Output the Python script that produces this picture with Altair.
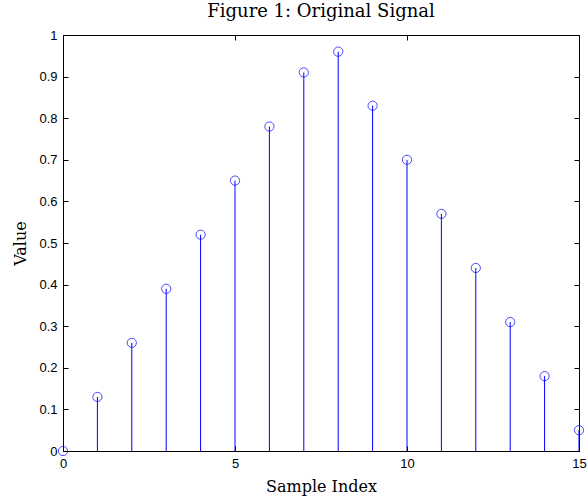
import altair as alt
import pandas as pd

sample_index = list(range(16))
values = [0.0, 0.13, 0.26, 0.39, 0.52, 0.65, 0.78, 0.91, 0.96, 0.83, 0.70, 0.57, 0.44, 0.31, 0.18, 0.05]
x_ticks = [0, 5, 10, 15]
y_ticks = [0, 0.1, 0.2, 0.3, 0.4, 0.5, 0.6, 0.7, 0.8, 0.9, 1]

df = pd.DataFrame({"n": sample_index, "v": values, "base": [0.0] * len(values)})

W, H = 516, 416
BLUE = "#0000ff"
xs = alt.Scale(domain=[0, 15], nice=False, zero=False)
ys = alt.Scale(domain=[0, 1], nice=False)

label_font = "Liberation Sans"
serif = "DejaVu Serif"

# Layer 1: stems, carries the labelled axes
stems = alt.Chart(df).mark_rule(color=BLUE, strokeWidth=1).encode(
    x=alt.X("n:Q", scale=xs, axis=alt.Axis(
        orient="bottom", values=x_ticks, format="d", title="Sample Index",
        tickSize=0, domain=False, grid=False, labelPadding=6, labelFlush=False,
        labelFont=label_font, labelFontSize=13, labelColor="#000",
        titleFont=serif, titleFontSize=16, titleFontWeight="normal", titleColor="#000", titlePadding=8)),
    y=alt.Y("base:Q", scale=ys, axis=alt.Axis(
        orient="left", values=y_ticks, format="~g", title="Value",
        tickSize=0, domain=False, grid=False, labelPadding=6, labelFlush=False,
        labelFont=label_font, labelFontSize=13, labelColor="#000",
        titleFont=serif, titleFontSize=16, titleFontWeight="normal", titleColor="#000", titlePadding=10)),
    y2="v:Q",
)

# Layer 2: circles, axes for inward ticks on bottom and left edges
circles = alt.Chart(df).mark_point(shape="circle", filled=False, color=BLUE, size=85, strokeWidth=1).encode(
    x=alt.X("n:Q", scale=xs, axis=alt.Axis(
        orient="top", offset=-H, values=x_ticks, labels=False, title=None,
        tickSize=5, tickColor="#000", domain=False, grid=False)),
    y=alt.Y("v:Q", scale=ys, axis=alt.Axis(
        orient="right", offset=-W, values=y_ticks, labels=False, title=None,
        tickSize=5, tickColor="#000", domain=False, grid=False)),
)

# Layer 3: invisible copy carrying inward ticks on top and right edges
ghost = alt.Chart(df).mark_point(opacity=0).encode(
    x=alt.X("n:Q", scale=xs, axis=alt.Axis(
        orient="bottom", offset=-H, values=x_ticks, labels=False, title=None,
        tickSize=5, tickColor="#000", domain=False, grid=False)),
    y=alt.Y("v:Q", scale=ys, axis=alt.Axis(
        orient="left", offset=-W, values=y_ticks, labels=False, title=None,
        tickSize=5, tickColor="#000", domain=False, grid=False)),
)

chart = alt.layer(stems, circles, ghost).resolve_axis(
    x="independent", y="independent"
).properties(
    width=W, height=H,
    title=alt.TitleParams("Figure 1: Original Signal", font=serif, fontSize=18,
                          fontWeight="normal", color="#000", offset=8, anchor="middle"),
    autosize=alt.AutoSizeParams(type="none"),
    padding={"left": 63, "top": 35, "right": 8, "bottom": 52},
    background="white",
).configure_view(stroke="#000", strokeWidth=1)

chart.save("out.html", embed_options={"renderer": "svg", "actions": False})
